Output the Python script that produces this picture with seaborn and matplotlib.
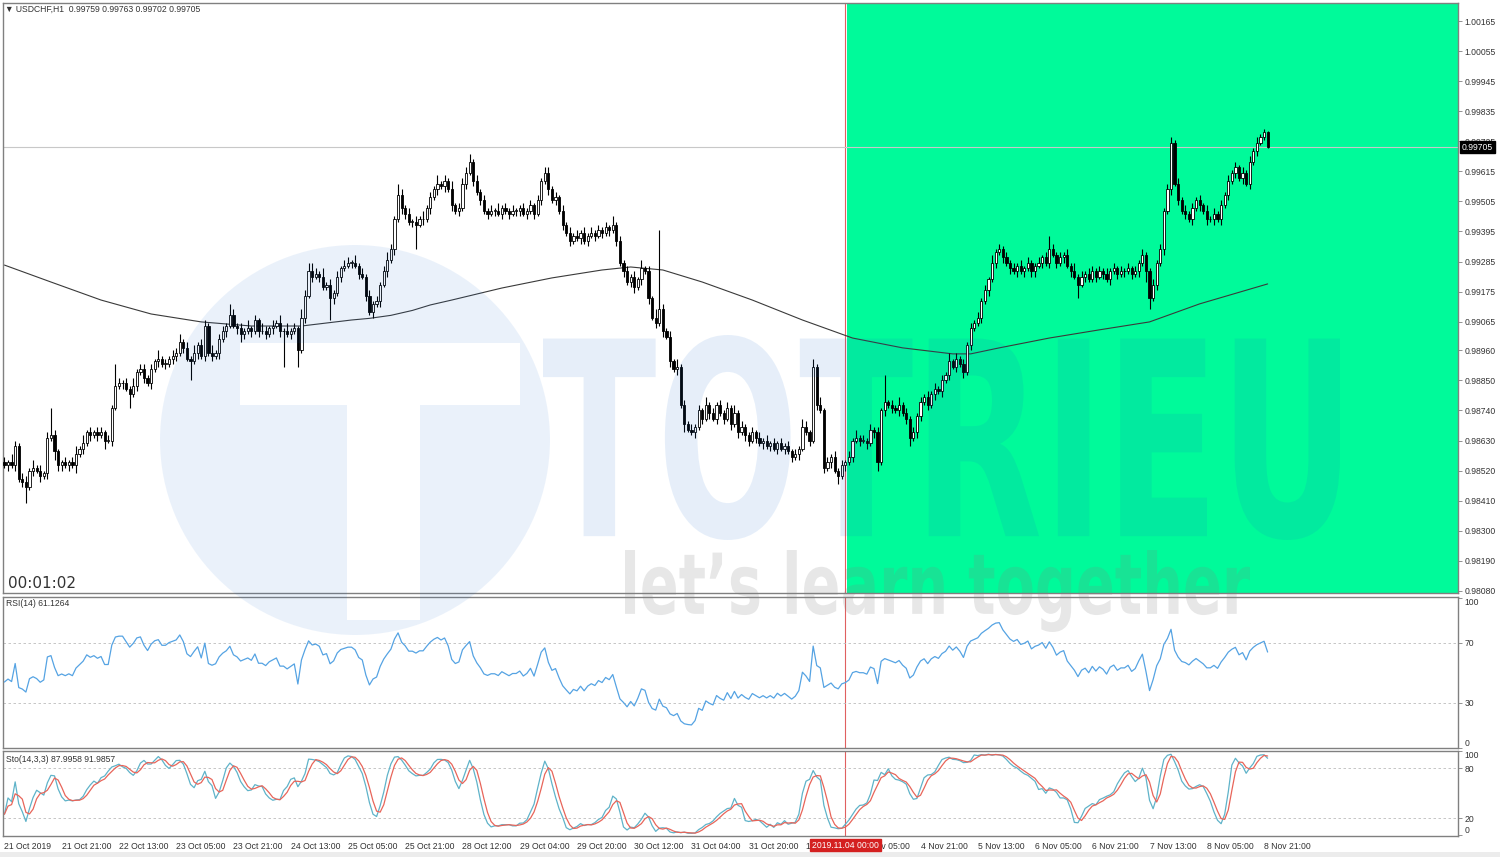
import numpy as np
import pandas as pd
import matplotlib
matplotlib.use("Agg")
import matplotlib.pyplot as plt
import seaborn as sns
from matplotlib.path import Path
from matplotlib.patches import PathPatch, Rectangle
from matplotlib.textpath import TextPath
from matplotlib.font_manager import FontProperties
from matplotlib.transforms import IdentityTransform, Affine2D

# ---------------- data (USDCHF H1) ----------------
OPEN0 = 0.9855
CLOSE = [
    0.9854, 0.9855, 0.9854, 0.9861, 0.9849, 0.9848, 0.9846, 0.9852, 0.9853, 0.9852, 0.9850, 0.9851, 0.9864, 0.9865, 0.9859, 0.9854,
    0.9855, 0.9854, 0.9855, 0.9854, 0.9858, 0.9860, 0.9862, 0.9866, 0.9865, 0.9866, 0.9865, 0.9866, 0.9863, 0.9863, 0.9875, 0.9883,
    0.9884, 0.9884, 0.9882, 0.9880, 0.9883, 0.9888, 0.9889, 0.9886, 0.9884, 0.9889, 0.9892, 0.9893, 0.9891, 0.9891, 0.9893, 0.9894,
    0.9895, 0.9899, 0.9897, 0.9893, 0.9892, 0.9895, 0.9898, 0.9894, 0.9905, 0.9895, 0.9894, 0.9895, 0.9900, 0.9903, 0.9905, 0.9909,
    0.9905, 0.9904, 0.9902, 0.9903, 0.9904, 0.9903, 0.9907, 0.9903, 0.9903, 0.9902, 0.9904, 0.9905, 0.9906, 0.9903, 0.9903, 0.9902,
    0.9903, 0.9904, 0.9896, 0.9908, 0.9916, 0.9925, 0.9923, 0.9924, 0.9923, 0.9919, 0.9920, 0.9915, 0.9917, 0.9923, 0.9926, 0.9927,
    0.9928, 0.9928, 0.9927, 0.9924, 0.9923, 0.9916, 0.9910, 0.9913, 0.9914, 0.9920, 0.9925, 0.9929, 0.9933, 0.9944, 0.9953, 0.9948,
    0.9946, 0.9943, 0.9943, 0.9942, 0.9944, 0.9944, 0.9948, 0.9952, 0.9955, 0.9957, 0.9956, 0.9958, 0.9955, 0.9949, 0.9947, 0.9948,
    0.9957, 0.9961, 0.9965, 0.9958, 0.9954, 0.9951, 0.9947, 0.9946, 0.9947, 0.9947, 0.9946, 0.9948, 0.9947, 0.9946, 0.9947, 0.9947,
    0.9948, 0.9946, 0.9947, 0.9949, 0.9946, 0.9951, 0.9958, 0.9961, 0.9955, 0.9951, 0.9952, 0.9947, 0.9942, 0.9939, 0.9936, 0.9938,
    0.9937, 0.9939, 0.9936, 0.9938, 0.9939, 0.9938, 0.9940, 0.9939, 0.9941, 0.9940, 0.9942, 0.9936, 0.9928, 0.9925, 0.9921, 0.9923,
    0.9919, 0.9922, 0.9926, 0.9925, 0.9915, 0.9908, 0.9906, 0.9911, 0.9903, 0.9901, 0.9892, 0.9889, 0.9890, 0.9876, 0.9869, 0.9867,
    0.9866, 0.9868, 0.9874, 0.9871, 0.9876, 0.9873, 0.9871, 0.9876, 0.9873, 0.9871, 0.9875, 0.9869, 0.9873, 0.9866, 0.9868, 0.9865,
    0.9863, 0.9866, 0.9864, 0.9862, 0.9863, 0.9861, 0.9862, 0.9860, 0.9862, 0.9860, 0.9861, 0.9859, 0.9857, 0.9858, 0.9860, 0.9868,
    0.9866, 0.9863, 0.9890, 0.9876, 0.9874, 0.9853, 0.9855, 0.9857, 0.9852, 0.9850, 0.9854, 0.9855, 0.9857, 0.9863, 0.9864, 0.9863,
    0.9863, 0.9862, 0.9867, 0.9866, 0.9855, 0.9874, 0.9877, 0.9876, 0.9875, 0.9874, 0.9876, 0.9873, 0.9871, 0.9864, 0.9866, 0.9872,
    0.9877, 0.9879, 0.9876, 0.9880, 0.9882, 0.9881, 0.9885, 0.9887, 0.9892, 0.9890, 0.9893, 0.9891, 0.9888, 0.9898, 0.9904, 0.9906,
    0.9908, 0.9914, 0.9918, 0.9922, 0.9928, 0.9932, 0.9933, 0.9930, 0.9928, 0.9926, 0.9925, 0.9927, 0.9925, 0.9926, 0.9928, 0.9925,
    0.9927, 0.9928, 0.9930, 0.9928, 0.9933, 0.9931, 0.9928, 0.9930, 0.9931, 0.9927, 0.9925, 0.9923, 0.9920, 0.9923, 0.9924, 0.9922,
    0.9925, 0.9923, 0.9925, 0.9924, 0.9922, 0.9925, 0.9926, 0.9924, 0.9925, 0.9925, 0.9926, 0.9924, 0.9925, 0.9928, 0.9931, 0.9925,
    0.9915, 0.9920, 0.9928, 0.9933, 0.9947, 0.9955, 0.9972, 0.9957, 0.9951, 0.9947, 0.9946, 0.9944, 0.9948, 0.9951, 0.9949, 0.9947,
    0.9944, 0.9944, 0.9946, 0.9944, 0.9949, 0.9953, 0.9958, 0.9961, 0.9963, 0.9959, 0.9961, 0.9957, 0.9965, 0.9969, 0.9972, 0.9974,
    0.99759, 0.99705,
]
# wick lengths in pips above / below the body, one digit per bar
UP_WICK = [
    "2132122131212921", "1212313121221218", "2121312212131212", "2312131221312214",
    "2121312132121313", "1213233213121212", "2131212121232142", "1212131213121312",
    "2231212121312121", "1212121221212121", "2121212121312121", "2131213121213121",
    "2121312121213121", "1212121212121213", "2131312121212131", "2121219121312121",
    "2121212131212121", "2121312121212121", "1212521212131212", "2121212121212121",
    "1212122121212121", "2121212121212121", "10",
]
DN_WICK = [
    "1212126121212132", "2121312121213121", "1215121212121212", "2121712121212121",
    "1232121212121291", "2161212121182121", "1212121212121212", "2129121212121212",
    "1212121212121212", "2121212121212121", "1212121212121212", "2121212121212131",
    "1212121212121212", "2121212121212121", "1212121213121212", "1212312121212312",
    "2121212121212121", "1212121212121212", "2121212121215121", "1212121212121214",
    "4121212121212121", "2121212121212121", "10",
]
UP_BIG = {13: 10, 183: 29, 246: 10}
DN_BIG = {78: 13}
LAST_HL = (0.99763, 0.99702)

MA_IDX = [0, 13, 27, 41, 55, 69, 83, 97, 102, 108, 114, 119, 125, 139, 153, 167, 175, 184,
          195, 209, 223, 237, 251, 265, 270, 278, 292, 306, 320, 334, 353]
MA_VAL = [0.99272, 0.99210, 0.99144, 0.99093, 0.99064, 0.99049, 0.99049, 0.99071, 0.99077,
          0.99088, 0.99106, 0.99126, 0.99144, 0.99188, 0.99225, 0.99254, 0.99265, 0.99254,
          0.99210, 0.99144, 0.99071, 0.99005, 0.98969, 0.98947, 0.98947, 0.98969, 0.99005,
          0.99035, 0.99064, 0.99130, 0.99203]
# seed of Wilder's averages (gain, loss) from the bars before the window
RSI_SEED = (0.00010, 0.00012)

PRICE_TICKS = ["1.00165", "1.00055", "0.99945", "0.99835", "0.99725", "0.99615", "0.99505",
               "0.99395", "0.99285", "0.99175", "0.99065", "0.98960", "0.98850", "0.98740",
               "0.98630", "0.98520", "0.98410", "0.98300", "0.98190", "0.98080"]
TIME_LABELS = ["21 Oct 2019", "21 Oct 21:00", "22 Oct 13:00", "23 Oct 05:00", "23 Oct 21:00",
               "24 Oct 13:00", "25 Oct 05:00", "25 Oct 21:00", "28 Oct 12:00", "29 Oct 04:00",
               "29 Oct 20:00", "30 Oct 12:00", "31 Oct 04:00", "31 Oct 20:00", "1 Nov 12:00",
               "4 Nov 05:00", "4 Nov 21:00", "5 Nov 13:00", "6 Nov 05:00", "6 Nov 21:00",
               "7 Nov 13:00", "8 Nov 05:00", "8 Nov 21:00"]
TIME_STEP = 16
CURSOR_BAR = 235
CURSOR_LABEL = "2019.11.04 00:00"
LAST_PRICE = 0.99705
TITLE = "\u25bc USDCHF,H1  0.99759 0.99763 0.99702 0.99705"
RSI_TITLE = "RSI(14) 61.1264"
STO_TITLE = "Sto(14,3,3) 87.9958 91.9857"

# ---------------- derived series ----------------
close = np.array(CLOSE)
n = len(close)
open_ = np.r_[OPEN0, close[:-1]]
up = np.array([int(c) for c in "".join(UP_WICK)], float)
dn = np.array([int(c) for c in "".join(DN_WICK)], float)
for k, v in UP_BIG.items():
    up[k] = v
for k, v in DN_BIG.items():
    dn[k] = v
high = np.maximum(open_, close) + up / 10000
low = np.minimum(open_, close) - dn / 10000
high[-1], low[-1] = LAST_HL
idx = np.arange(n)

delta = np.diff(np.r_[OPEN0, close])
ag, al = RSI_SEED
rsi = np.empty(n)
for i, d in enumerate(delta):
    ag = (ag * 13 + max(d, 0)) / 14
    al = (al * 13 + max(-d, 0)) / 14
    rsi[i] = 100 - 100 / (1 + ag / al)
s = pd.Series(close)
ll = pd.Series(low).rolling(14, min_periods=1).min()
hh = pd.Series(high).rolling(14, min_periods=1).max()
k_line = 100 * (s - ll).rolling(3, min_periods=1).sum() / (hh - ll).rolling(3, min_periods=1).sum()
d_line = k_line.rolling(3, min_periods=1).mean()

# ---------------- figure ----------------
sns.set_theme(style="white")
plt.rcParams['font.family'] = ['Liberation Sans', 'DejaVu Sans']
W, H = 1500, 857
fig = plt.figure(figsize=(15, 8.57), dpi=100)
fig.patch.set_facecolor("white")


def px_axes(x0, y0, x1, y1):
    return fig.add_axes([x0 / W, 1 - y1 / H, (x1 - x0) / W, (y1 - y0) / H])


ax = px_axes(3, 3, 1458, 593)
ax_rsi = px_axes(3, 597, 1458, 748)
ax_sto = px_axes(3, 751, 1458, 836)
XLIM = (-0.4, 406.2)
SPINE = "#808080"
TXT = "#333333"
FS = 6.2

for a in (ax, ax_rsi, ax_sto):
    a.set_xlim(*XLIM)
    a.set_facecolor("white")
    for sp in a.spines.values():
        sp.set_color(SPINE)
        sp.set_linewidth(1.0)
    a.yaxis.tick_right()
    a.tick_params(axis="y", direction="out", length=3, width=0.6, color=SPINE,
                  labelsize=FS, labelcolor=TXT, pad=1.5)
    a.set_xticks([])
    a.axvline(CURSOR_BAR, color="#e06060", lw=0.8, zorder=1)

# main panel
ax.set_ylim(0.98072, 1.00231)
ax.axvspan(CURSOR_BAR + 0.5, XLIM[1], color="#00fa9a", lw=0, zorder=0)
ax.axhline(LAST_PRICE, color="#c8c8c8", lw=0.8, zorder=1)
sns.lineplot(x=MA_IDX, y=MA_VAL, ax=ax, color="#3a3a3a", lw=0.8, zorder=2)
ax.vlines(idx, low, high, color="black", lw=0.8, zorder=3)
body_lo = np.minimum(open_, close)
body_h = np.maximum(np.abs(close - open_), 0.00002)
bull = close >= open_
ax.bar(idx[bull], body_h[bull], bottom=body_lo[bull], width=0.62, color="white",
       edgecolor="black", linewidth=0.6, zorder=4)
ax.bar(idx[~bull], body_h[~bull], bottom=body_lo[~bull], width=0.62, color="black",
       edgecolor="black", linewidth=0.6, zorder=4)
ax.set_yticks([float(t) for t in PRICE_TICKS])
ax.set_yticklabels(PRICE_TICKS)
ax.set_xlabel("")
ax.set_ylabel("")

# RSI panel
ax_rsi.set_ylim(0, 100.5)
for lv in (70, 30):
    ax_rsi.axhline(lv, color="#bdbdbd", lw=0.6, ls=(0, (3, 3)), zorder=1)
sns.lineplot(x=idx, y=rsi, ax=ax_rsi, color="#55a3e3", lw=0.9, zorder=3)
ax_rsi.set_yticks([100, 70, 30, 0])
ax_rsi.set_yticklabels(["100", "70", "30", "0"])
labs = ax_rsi.get_yticklabels()
labs[0].set_va("top")
labs[3].set_va("bottom")
ax_rsi.set_xlabel("")
ax_rsi.set_ylabel("")

# Stochastic panel
ax_sto.set_ylim(-1, 100.5)
for lv in (80, 20):
    ax_sto.axhline(lv, color="#bdbdbd", lw=0.6, ls=(0, (3, 3)), zorder=1)
sns.lineplot(x=idx, y=k_line.values, ax=ax_sto, color="#5fb3c9", lw=0.9, zorder=3)
sns.lineplot(x=idx, y=d_line.values, ax=ax_sto, color="#e8655a", lw=0.9, zorder=3)
ax_sto.set_yticks([100, 80, 20, 0])
ax_sto.set_yticklabels(["100", "80", "20", "0"])
labs = ax_sto.get_yticklabels()
labs[0].set_va("top")
labs[3].set_va("bottom")
ax_sto.set_xticks(np.arange(len(TIME_LABELS)) * TIME_STEP)
ax_sto.set_xticklabels(TIME_LABELS)
ax_sto.tick_params(axis="x", direction="out", length=3, width=0.6, color=SPINE,
                   labelsize=FS, labelcolor=TXT, pad=1.5)
for lb in ax_sto.get_xticklabels():
    lb.set_ha("left")
ax_sto.set_xlabel("")
ax_sto.set_ylabel("")

# texts
fig.text(5 / W, 1 - 9 / H, TITLE, fontsize=FS, color=TXT, va="center", ha="left")
fig.text(6 / W, 1 - 604 / H, RSI_TITLE, fontsize=FS, color=TXT, va="center", ha="left")
fig.text(6 / W, 1 - 759 / H, STO_TITLE, fontsize=FS, color=TXT, va="center", ha="left")
fig.text(8 / W, 1 - 583 / H, "00:01:02", fontsize=11, color=TXT, va="center", ha="left",
         family="DejaVu Sans")
fig.text(1462 / W, 1 - 147 / H, f"{LAST_PRICE:.5f}", fontsize=FS, color="white",
         va="center", ha="left", zorder=20,
         bbox=dict(boxstyle="square,pad=0.2", fc="black", ec="black"))
fig.text((3 + (CURSOR_BAR + 0.4) * 1455 / (XLIM[1] - XLIM[0])) / W, 1 - 845 / H, CURSOR_LABEL,
         fontsize=FS, color="white", va="center", ha="center", zorder=20,
         bbox=dict(boxstyle="square,pad=0.2", fc="#d42020", ec="#d42020"))
fig.patches.append(Rectangle((0, 0), 1, 5 / H, transform=fig.transFigure,
                             fc="#ececec", ec="none", zorder=0))

# watermark (translucent overlay)
WM_BLUE = "#1467cf"


def word_patch(text, box, color, alpha):
    tp = TextPath((0, 0), text, size=100, prop=FontProperties(family="DejaVu Sans", weight="bold"))
    ext = tp.get_extents()
    x0, y0, x1, y1 = box
    tr = Affine2D().translate(-ext.x0, -ext.y0).scale((x1 - x0) / ext.width,
                                                       (y1 - y0) / ext.height).translate(x0, H - y1)
    fig.add_artist(PathPatch(tr.transform_path(tp), fc=color, ec="none", alpha=alpha,
                             transform=IdentityTransform(), zorder=15))


def signed_area(v):
    v = np.asarray(v)
    return 0.5 * np.sum(v[:-1, 0] * v[1:, 1] - v[1:, 0] * v[:-1, 1])


circ = Path.circle(center=(355, H - 440), radius=195)
cv = circ.vertices
t_img = [(240, 343), (520, 343), (520, 405), (420, 405), (420, 620), (347, 620), (347, 405), (240, 405)]
tv = np.array([(x, H - y) for x, y in t_img] + [(t_img[0][0], H - t_img[0][1])], float)
if np.sign(signed_area(tv)) == np.sign(signed_area(cv[:-1])):
    tv = tv[::-1]
tcodes = [Path.MOVETO] + [Path.LINETO] * (len(tv) - 2) + [Path.CLOSEPOLY]
logo = Path.make_compound_path(circ, Path(tv, tcodes))
fig.add_artist(PathPatch(logo, fc=WM_BLUE, ec="none", alpha=0.085,
                         transform=IdentityTransform(), zorder=15))
word_patch("TOTRIEU", (543, 335, 1340, 540), WM_BLUE, 0.105)
word_patch("let\u2019s learn together", (625, 550, 1250, 632), "#808080", 0.19)

fig.savefig("out.png", dpi=100, facecolor="white")
